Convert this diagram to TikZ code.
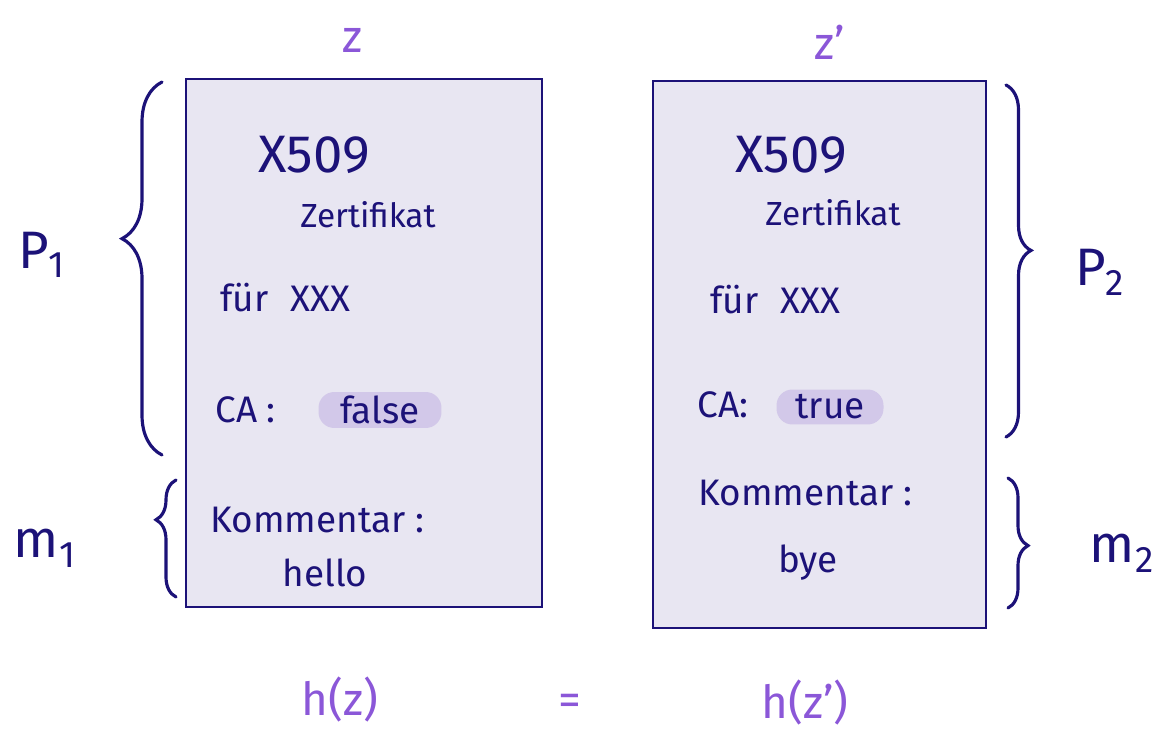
\documentclass[tikz,border=0pt]{standalone}
\usepackage{fontspec}
\setmainfont{Fira Sans}
\usetikzlibrary{positioning,decorations.pathreplacing}

\definecolor{ink}{HTML}{1C1278}
\definecolor{certbg}{HTML}{E8E6F2}
\definecolor{pillbg}{HTML}{D2C8E9}
\definecolor{hashpurple}{HTML}{8B57D8}

\newcommand{\fs}[1]{\fontsize{#1}{#1}\selectfont}

\begin{document}
\begin{tikzpicture}[x=0.02cm, y=-0.02cm, text=ink,
    cert/.style={draw=ink, line width=1.2pt, fill=certbg, anchor=north west, inner sep=0pt},
    entry/.style={anchor=west, inner sep=0pt, font=\fs{21}},
    pill/.style={fill=pillbg, rounded corners=9pt, inner sep=0pt, font=\fs{21}},
    hashlbl/.style={text=hashpurple, font=\fs{26}},
    partlbl/.style={font=\fs{30}},
    curly/.style={draw=ink, line width=1.8pt, line cap=round, decorate}]
  \useasboundingbox (0,0) rectangle (1169,739);

  % the two certificates
  \node[cert, minimum width=7.12cm, minimum height=10.56cm] (certA) at (185,78) {};
  \node[cert, minimum width=6.66cm, minimum height=10.94cm] (certB) at (652,80) {};

  % left certificate
  \node[entry, font=\fs{30}] (serA) at (258,155) {X509};
  \node[entry, font=\fs{19}] (zertA) at (300,215) {Zertifikat};
  \node[entry] (fuerA) at (220,298) {für\hspace{0.6em}XXX};
  \node[entry] (caA) at (215,410) {CA :};
  \node[pill, minimum width=2.46cm, minimum height=0.72cm] (flagA) at (380,410) {false};
  \node[entry] (komA) at (210,520) {Kommentar :};
  \node[inner sep=0pt, font=\fs{21}] (msgA) at (325,573) {hello};

  % right certificate
  \node[entry, font=\fs{30}] (serB) at (735,155) {X509};
  \node[entry, font=\fs{19}] (zertB) at (765,213) {Zertifikat};
  \node[entry] (fuerB) at (710,300) {für\hspace{0.6em}XXX};
  \node[entry] (caB) at (697,405) {CA:};
  \node[pill, minimum width=2.14cm, minimum height=0.7cm] (flagB) at (830,407) {true};
  \node[entry] (komB) at (698,493) {Kommentar :};
  \node[inner sep=0pt, font=\fs{21}] (msgB) at (808,563) {bye};

  % names above the boxes
  \node[hashlbl] (zA) at (352,40) {z};
  \node[hashlbl] (zB) at (830,42) {z'};

  % braces for the parts
  \coordinate (pA-bot) at (162,455);
  \coordinate (pA-top) at (162,82);
  \coordinate (mA-bot) at (176,597);
  \coordinate (mA-top) at (176,480);
  \coordinate (pB-top) at (1006,85);
  \coordinate (pB-bot) at (1006,437);
  \coordinate (mB-top) at (1008,478);
  \coordinate (mB-bot) at (1008,608);
  \draw[curly, decoration={brace, amplitude=0.8cm, aspect=0.58}] (pA-bot) -- (pA-top);
  \draw[curly, decoration={brace, amplitude=0.4cm, aspect=0.66}] (mA-bot) -- (mA-top);
  \draw[curly, decoration={brace, amplitude=0.5cm, aspect=0.47}] (pB-top) -- (pB-bot);
  \draw[curly, decoration={brace, amplitude=0.4cm, aspect=0.52}] (mB-top) -- (mB-bot);

  \node[partlbl] (pA) at (42,255) {P\textsubscript{1}};
  \node[partlbl] (mA) at (45,548) {m\textsubscript{1}};
  \node[partlbl] (pB) at (1100,272) {P\textsubscript{2}};
  \node[partlbl] (mB) at (1122,553) {m\textsubscript{2}};

  % hash equation
  \node[hashlbl] (hA) at (340,700) {h(z)};
  \node[hashlbl] (eq) at (570,705) {=};
  \node[hashlbl] (hB) at (805,703) {h(z')};
\end{tikzpicture}
\end{document}
